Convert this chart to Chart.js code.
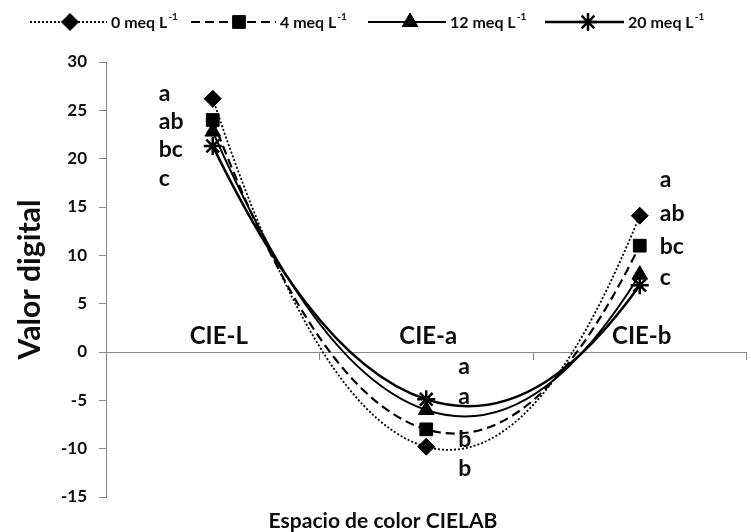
<!DOCTYPE html>
<html>
<head>
<meta charset="utf-8">
<script src="https://cdn.jsdelivr.net/npm/chart.js@4/dist/chart.umd.min.js"></script>
<style>
  html, body { margin: 0; padding: 0; background: #fff; overflow: hidden; }
  #wrap { width: 751px; height: 532px; overflow: hidden; position: relative; }
  canvas { display: block; }
</style>
</head>
<body>
<div id="wrap"><canvas id="chart" width="758" height="532" style="width:758px;height:532px"></canvas></div>
<script>
// CIELAB colour-space readings for four nutrient-solution concentrations
const categories = ['CIE-L', 'CIE-a', 'CIE-b'];
const seriesNames = ['0 meq L', '4 meq L', '12 meq L', '20 meq L'];
const meq0 = [26.2, -9.8, 14.1];
const meq4 = [24.0, -8.0, 11.0];
const meq12 = [22.8, -6.0, 8.0];
const meq20 = [21.3, -4.9, 6.9];
const yTicks = [-15, -10, -5, 0, 5, 10, 15, 20, 25, 30];

// Mean-separation letters per category (top to bottom)
const lettersL = ['a', 'ab', 'bc', 'c'];
const lettersA = ['a', 'a', 'b', 'b'];
const lettersB = ['a', 'ab', 'bc', 'c'];

const FONT = 'Lato, "Liberation Sans", Arial, sans-serif';
const INK = '#0d0d0d';
const AXIS = '#868686';

const styles = [
  { dash: [2, 2], width: 1.8, point: 'rectRot', radius: 8.5, pbw: 1 },
  { dash: [9, 5], width: 2.2, point: 'rect', radius: 9, pbw: 1 },
  { dash: [], width: 2, point: 'triangle', radius: 9, pbw: 1 },
  { dash: [], width: 2.5, point: 'star', radius: 9, pbw: 2.5 }
];
const seriesValues = [meq0, meq4, meq12, meq20];

// Smoothed line: Catmull-Rom style handles inside, parabolic end tangents
const smoothCurve = {
  id: 'smoothCurve',
  beforeDatasetDraw(chart, args) {
    const meta = args.meta;
    const line = meta.dataset;
    const pts = meta.data;
    line.updateControlPoints(chart.chartArea, 'x');
    const n = pts.length;
    if (n < 3) return;
    const K = 0.21, KE = 0.25;
    for (let i = 1; i < n - 1; i++) {
      const p = pts[i], a = pts[i - 1], b = pts[i + 1];
      const dx = b.x - a.x, dy = b.y - a.y;
      p.cp1x = p.x - K * dx; p.cp1y = p.y - K * dy;
      p.cp2x = p.x + K * dx; p.cp2y = p.y + K * dy;
    }
    const p0 = pts[0], p1 = pts[1], p2 = pts[2];
    const sx = 2 * (p1.x - p0.x) - 0.5 * (p2.x - p0.x);
    const sy = 2 * (p1.y - p0.y) - 0.5 * (p2.y - p0.y);
    p0.cp2x = p0.x + KE * sx; p0.cp2y = p0.y + KE * sy;
    const q0 = pts[n - 3], q1 = pts[n - 2], q2 = pts[n - 1];
    const ex = 2 * (q2.x - q1.x) - 0.5 * (q2.x - q0.x);
    const ey = 2 * (q2.y - q1.y) - 0.5 * (q2.y - q0.y);
    q2.cp1x = q2.x - KE * ex; q2.cp1y = q2.y - KE * ey;
  }
};

function fitFont(ctx, text, target, weight) {
  ctx.font = weight + ' 20px ' + FONT;
  const w = ctx.measureText(text).width;
  return 20 * target / w;
}

// Category names, letters, axis titles and legend
const annotations = {
  id: 'annotations',
  afterDraw(chart) {
    const ctx = chart.ctx;
    const xs = chart.scales.x, ys = chart.scales.y;
    ctx.save();
    ctx.fillStyle = INK;

    // category names sitting on the zero line
    ctx.font = 'bold 24px ' + FONT;
    ctx.textAlign = 'center';
    ctx.textBaseline = 'alphabetic';
    const zeroY = ys.getPixelForValue(0);
    const nameShift = [6, 2, 2];
    categories.forEach((c, i) => {
      ctx.fillText(c, xs.getPixelForValue(i) + nameShift[i], zeroY - 8);
    });

    // significance letters
    const groups = [
      { letters: lettersL, dx: -54, at: [26.7, 23.8, 20.9, 17.9] },
      { letters: lettersA, dx: 32, at: [-1.5, -4.6, -9.1, -12.1] },
      { letters: lettersB, dx: 20, at: [17.8, 14.3, 10.9, 7.7] }
    ];
    ctx.font = 'bold 23px ' + FONT;
    ctx.textAlign = 'left';
    ctx.textBaseline = 'middle';
    groups.forEach((g, i) => {
      const x = xs.getPixelForValue(i) + g.dx;
      g.letters.forEach((t, k) => ctx.fillText(t, x, ys.getPixelForValue(g.at[k])));
    });

    // axis titles
    const xt = 'Espacio de color CIELAB';
    ctx.font = 'bold ' + fitFont(ctx, xt, 229, 'bold') + 'px ' + FONT;
    ctx.textAlign = 'center';
    ctx.textBaseline = 'middle';
    ctx.fillText(xt, 383, 521);

    const yt = 'Valor digital';
    ctx.font = 'bold ' + fitFont(ctx, yt, 160, 'bold') + 'px ' + FONT;
    ctx.save();
    ctx.translate(30, (ys.top + ys.bottom) / 2);
    ctx.rotate(-Math.PI / 2);
    ctx.fillText(yt, 0, 0);
    ctx.restore();

    // legend
    const ly = 22;
    const slots = [
      { from: 30, to: 107, mark: 70, text: 111 },
      { from: 191, to: 276, mark: 239, text: 280 },
      { from: 368, to: 446, mark: 410, text: 450 },
      { from: 545, to: 624, mark: 588, text: 628 }
    ];
    slots.forEach((sl, i) => {
      const st = styles[i];
      ctx.save();
      ctx.strokeStyle = '#000';
      ctx.lineWidth = st.width;
      ctx.setLineDash(st.dash);
      ctx.beginPath();
      ctx.moveTo(sl.from, ly);
      ctx.lineTo(sl.to, ly);
      ctx.stroke();
      ctx.setLineDash([]);
      ctx.fillStyle = '#000';
      ctx.lineWidth = st.pbw;
      Chart.helpers.drawPoint(ctx, { pointStyle: st.point, radius: st.radius, rotation: 0, borderWidth: st.pbw }, sl.mark, ly);
      ctx.restore();
      ctx.fillStyle = INK;
      ctx.textAlign = 'left';
      ctx.textBaseline = 'middle';
      ctx.font = 'bold 16px ' + FONT;
      ctx.fillText(seriesNames[i], sl.text, ly + 1);
      const w = ctx.measureText(seriesNames[i]).width;
      ctx.font = 'bold 10px ' + FONT;
      ctx.fillText('-1', sl.text + w + 1, ly - 5);
    });
    ctx.restore();
  }
};

const datasets = seriesValues.map((vals, i) => ({
  label: seriesNames[i],
  data: vals,
  borderColor: '#000',
  backgroundColor: '#000',
  borderWidth: styles[i].width,
  borderDash: styles[i].dash,
  tension: 0.4,
  fill: false,
  pointStyle: styles[i].point,
  pointRadius: styles[i].radius,
  pointHoverRadius: styles[i].radius,
  pointBorderWidth: styles[i].pbw,
  pointBackgroundColor: '#000',
  pointBorderColor: '#000'
}));

new Chart(document.getElementById('chart'), {
  type: 'line',
  data: { labels: categories, datasets },
  options: {
    responsive: false,
    animation: false,
    layout: { padding: { top: 62, bottom: 35, left: 0, right: 1 } },
    plugins: { legend: { display: false }, tooltip: { enabled: false } },
    scales: {
      x: {
        type: 'category',
        position: { y: 0 },
        offset: true,
        grid: { display: true, drawOnChartArea: false, drawTicks: true, tickLength: 7, color: AXIS, offset: true },
        border: { display: true, color: AXIS, width: 1 },
        ticks: { display: false }
      },
      y: {
        min: -15,
        max: 30,
        afterBuildTicks(scale) { scale.ticks = yTicks.map(v => ({ value: v })); },
        afterFit(scale) { scale.width = 106; },
        grid: { display: true, drawOnChartArea: false, drawTicks: true, tickLength: 7, color: AXIS },
        border: { display: true, color: AXIS, width: 1 },
        ticks: { color: INK, padding: 12, font: { family: FONT, size: 17, weight: 'bold' } }
      }
    }
  },
  plugins: [smoothCurve, annotations]
});
</script>
</body>
</html>
